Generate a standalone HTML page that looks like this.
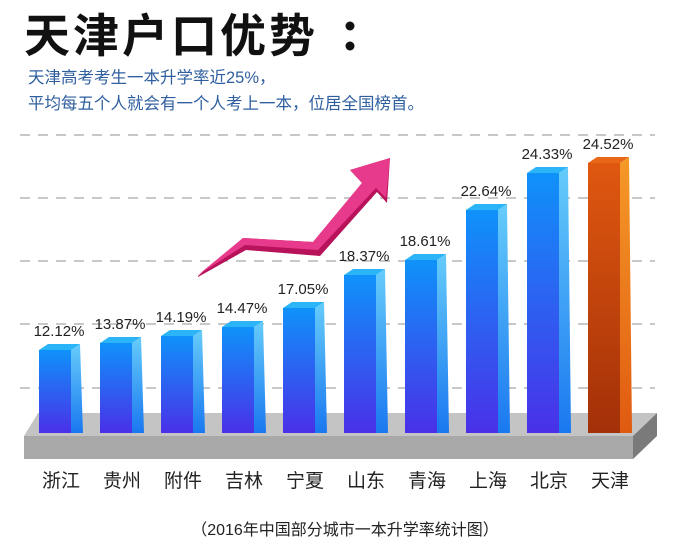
<!DOCTYPE html>
<html><head><meta charset="utf-8"><style>
body{margin:0;background:#fff;width:690px;height:558px;overflow:hidden;font-family:"Liberation Sans","Noto Sans CJK SC",sans-serif}
</style></head><body>
<svg width="690" height="558" xmlns="http://www.w3.org/2000/svg" style="position:absolute;left:0;top:0">
<defs>
<linearGradient id="bf" x1="0" y1="0" x2="0" y2="1"><stop offset="0" stop-color="#0f92fa"/><stop offset="1" stop-color="#4a30e8"/></linearGradient>
<linearGradient id="bs" x1="0" y1="0" x2="0" y2="1"><stop offset="0" stop-color="#66ccfa"/><stop offset="1" stop-color="#1a78f0"/></linearGradient>
<linearGradient id="of" x1="0" y1="0" x2="0" y2="1"><stop offset="0" stop-color="#e05810"/><stop offset="1" stop-color="#a33008"/></linearGradient>
<linearGradient id="os" x1="0" y1="0" x2="0" y2="1"><stop offset="0" stop-color="#f59a28"/><stop offset="1" stop-color="#e05a10"/></linearGradient>
</defs>
<text x="24" y="52" font-size="46" font-weight="bold" fill="#111" letter-spacing="3" font-family="'Noto Sans CJK SC',sans-serif">天津户口优势</text>
<circle cx="350" cy="26" r="4.5" fill="#111"/><circle cx="350" cy="46" r="4.5" fill="#111"/>
<text x="28" y="83" font-size="16.5" fill="#2f5f9f" font-family="'Liberation Sans','Noto Sans CJK SC',sans-serif">天津高考考生一本升学率近25%，</text>
<text x="28" y="109" font-size="16.5" fill="#2f5f9f" font-family="'Liberation Sans','Noto Sans CJK SC',sans-serif">平均每五个人就会有一个人考上一本，位居全国榜首。</text>
<g stroke="#c8c8c8" stroke-width="2" stroke-dasharray="10,8">
<line x1="20" y1="135" x2="655" y2="135"/><line x1="20" y1="198" x2="655" y2="198"/><line x1="20" y1="261" x2="655" y2="261"/><line x1="20" y1="324" x2="655" y2="324"/><line x1="20" y1="388" x2="655" y2="388"/>
</g>
<polygon points="38,413 657,413 633,436 24,436" fill="#c4c4c4"/>
<polygon points="24,436 633,436 633,459 24,459" fill="#a8a8a8"/>
<polygon points="633,436 657,413 657,436 633,459" fill="#7a7a7a"/>
<polygon points="198,276 243,238 313,242 362,183 350,170 390,158 387,203 377,192 320,256 246,250 198,277" fill="#b8125a"/>
<polygon points="198,275 243,238 313,242 362,183 350,170 390,158 386,198 376,188 318,250 245,245" fill="#e83a8c"/>
<g id="bars"></g>
<g font-size="15" fill="#222" text-anchor="middle" font-family="'Liberation Sans',sans-serif" id="labs"></g>
<g font-size="19" fill="#222" text-anchor="middle" font-family="'Noto Sans CJK SC',sans-serif" id="cities"></g>
<text x="345" y="535" font-size="16" fill="#222" text-anchor="middle" font-family="'Liberation Sans','Noto Sans CJK SC',sans-serif">（2016年中国部分城市一本升学率统计图）</text>
</svg>
<script>
var tops=[350,343,336,327,308,275,260,210,173,163];
var vals=["12.12%","13.87%","14.19%","14.47%","17.05%","18.37%","18.61%","22.64%","24.33%","24.52%"];
var cs=["浙江","贵州","附件","吉林","宁夏","山东","青海","上海","北京","天津"];
var b="",l="",c="";
for(var i=0;i<10;i++){var x=39+61*i,t=tops[i],o=i==9;
b+='<polygon points="'+(x+32)+','+t+' '+(x+41)+','+(t-6)+' '+(x+44)+',433 '+(x+32)+',433" fill="url(#'+(o?'os':'bs')+')"/>';
b+='<rect x="'+x+'" y="'+t+'" width="32" height="'+(433-t)+'" fill="url(#'+(o?'of':'bf')+')"/>';
b+='<polygon points="'+x+','+t+' '+(x+9)+','+(t-6)+' '+(x+41)+','+(t-6)+' '+(x+32)+','+t+'" fill="'+(o?'#e86818':'#2cb4f8')+'"/>';
l+='<text x="'+(x+20)+'" y="'+(t-14)+'">'+vals[i]+'</text>';
c+='<text x="'+(x+22)+'" y="487">'+cs[i]+'</text>';}
document.getElementById("bars").innerHTML=b;document.getElementById("labs").innerHTML=l;document.getElementById("cities").innerHTML=c;
</script>
</body></html>
